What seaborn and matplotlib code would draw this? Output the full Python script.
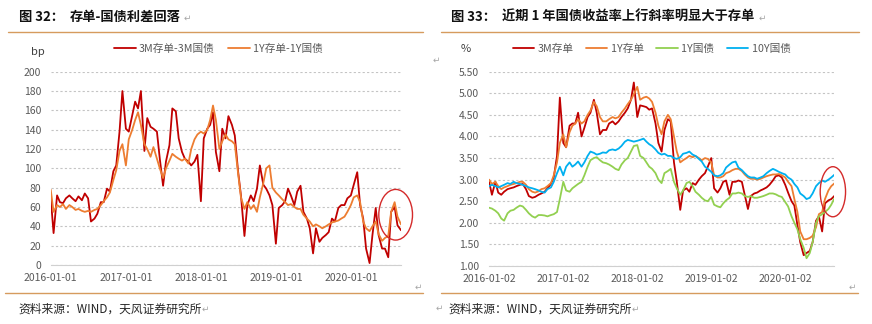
import pandas as pd
import matplotlib
matplotlib.use("Agg")
import matplotlib.pyplot as plt
import matplotlib.dates as mdates
from matplotlib.patches import Ellipse
from matplotlib.lines import Line2D
import seaborn as sns

# Semi-monthly observation dates, Jan 2016 - Aug 2020
dates = pd.date_range("2016-01-01", periods=113, freq="SMS")

# Left panel: CD minus treasury spreads (bp)
spread_3m = [70, 33, 72, 65, 64, 69, 72, 69, 66, 71, 67, 74, 69, 45, 48, 53,
             65, 65, 79, 76, 97, 103, 138, 180, 141, 138, 155, 169, 162, 180, 118, 152,
             143, 141, 138, 110, 82, 107, 124, 162, 159, 131, 117, 110, 107, 103, 107, 114,
             66, 131, 141, 145, 158, 117, 97, 141, 131, 154, 145, 134, 97, 72, 30, 62,
             72, 66, 79, 103, 83, 79, 72, 62, 22, 59, 62, 66, 79, 72, 62, 76,
             82, 55, 48, 38, 12, 38, 24, 28, 31, 34, 48, 45, 59, 62, 62, 69,
             72, 83, 96, 62, 48, 17, 2, 31, 59, 31, 17, 17, 8, 55, 60, 41, 36]
spread_1y = [78, 55, 62, 60, 63, 58, 62, 60, 57, 58, 56, 55, 56, 55, 57, 58,
             62, 66, 70, 75, 88, 98, 118, 125, 103, 130, 140, 150, 158, 145, 125, 120,
             112, 122, 110, 100, 90, 100, 108, 115, 112, 110, 108, 110, 105, 120, 130, 135,
             138, 136, 140, 150, 165, 150, 120, 128, 135, 130, 128, 125, 95, 70, 58, 65,
             58, 62, 55, 70, 85, 100, 103, 80, 75, 72, 68, 65, 62, 63, 60, 58,
             58, 52, 48, 45, 40, 42, 40, 38, 40, 42, 44, 45, 46, 48, 50, 55,
             62, 70, 72, 65, 45, 38, 35, 40, 45, 32, 25, 28, 30, 55, 65, 50, 42]

# Right panel: yields (%)
cd_3m = [2.95, 2.65, 2.95, 2.70, 2.65, 2.72, 2.78, 2.80, 2.82, 2.85, 2.88, 2.90, 2.78, 2.62, 2.58, 2.60,
         2.65, 2.68, 2.72, 2.80, 2.90, 3.05, 3.55, 4.90, 3.85, 3.75, 4.25, 4.30, 4.30, 4.55, 4.00, 4.20,
         4.45, 4.55, 4.85, 4.55, 4.05, 4.15, 4.15, 4.30, 4.35, 4.28, 4.35, 4.45, 4.55, 4.65, 4.85, 5.25,
         4.45, 4.72, 4.70, 4.68, 4.62, 4.65, 4.30, 3.85, 3.65, 4.15, 4.40, 4.35, 3.40, 2.95, 2.30, 2.75,
         2.80, 2.72, 2.92, 2.88, 3.00, 3.08, 3.15, 3.30, 3.50, 2.80, 2.70, 2.80, 2.95, 2.98, 2.65, 2.95,
         2.95, 2.98, 2.95, 2.65, 2.32, 2.62, 2.68, 2.70, 2.75, 2.78, 2.82, 2.88, 2.98, 3.08, 3.10, 3.05,
         2.88, 2.70, 2.50, 2.40, 1.95, 1.55, 1.25, 1.30, 1.35, 1.55, 2.05, 2.15, 1.80, 2.45, 2.52, 2.55, 2.63]
cd_1y = [3.00, 2.90, 2.95, 2.85, 2.78, 2.82, 2.85, 2.88, 2.90, 2.92, 2.95, 2.95, 2.88, 2.78, 2.72, 2.70,
         2.73, 2.78, 2.80, 2.85, 2.92, 3.10, 3.40, 3.85, 4.05, 3.75, 4.10, 4.25, 4.30, 4.40, 4.30, 4.35,
         4.50, 4.60, 4.80, 4.70, 4.45, 4.35, 4.35, 4.40, 4.45, 4.42, 4.45, 4.55, 4.65, 4.75, 4.85, 4.98,
         5.15, 4.85, 4.90, 4.92, 4.88, 4.80, 4.55, 4.25, 4.05, 4.35, 4.50, 4.40, 4.00, 3.65, 3.40, 3.45,
         3.50, 3.55, 3.52, 3.55, 3.50, 3.45, 3.50, 3.48, 3.40, 3.10, 3.05, 3.05, 3.08, 3.15, 3.18, 3.22,
         3.25, 3.25, 3.20, 3.12, 3.05, 3.02, 3.02, 3.00, 3.02, 3.05, 3.08, 3.10, 3.12, 3.12, 3.13, 3.10,
         3.05, 2.95, 2.85, 2.55, 2.25, 1.80, 1.62, 1.62, 1.65, 1.70, 1.90, 2.20, 2.25, 2.55, 2.75, 2.85, 2.92]
gov_1y = [2.35, 2.33, 2.28, 2.22, 2.10, 2.05, 2.22, 2.28, 2.30, 2.35, 2.40, 2.38, 2.30, 2.22, 2.15, 2.12,
          2.18, 2.18, 2.17, 2.15, 2.18, 2.20, 2.25, 2.55, 2.95, 2.75, 2.72, 2.80, 2.85, 2.90, 2.95, 3.10,
          3.30, 3.45, 3.50, 3.52, 3.45, 3.40, 3.38, 3.35, 3.30, 3.25, 3.22, 3.35, 3.45, 3.50, 3.65, 3.78,
          3.80, 3.55, 3.50, 3.40, 3.30, 3.25, 3.15, 3.00, 2.92, 3.15, 3.20, 3.25, 2.95, 2.80, 2.65, 2.75,
          2.92, 2.95, 2.85, 2.72, 2.65, 2.58, 2.52, 2.50, 2.60, 2.42, 2.38, 2.36, 2.45, 2.52, 2.58, 2.68,
          2.68, 2.70, 2.68, 2.62, 2.60, 2.62, 2.58, 2.58, 2.60, 2.62, 2.65, 2.68, 2.68, 2.66, 2.62, 2.60,
          2.48, 2.38, 2.15, 2.00, 1.85, 1.62, 1.42, 1.18, 1.30, 1.55, 2.00, 2.15, 2.20, 2.25, 2.32, 2.42, 2.58]
gov_10y = [2.85, 2.88, 2.85, 2.82, 2.85, 2.88, 2.92, 2.90, 2.95, 2.92, 2.90, 2.88, 2.85, 2.82, 2.80, 2.78,
           2.75, 2.72, 2.70, 2.78, 2.82, 2.95, 3.15, 3.30, 3.10, 3.30, 3.40, 3.30, 3.35, 3.42, 3.30, 3.40,
           3.55, 3.65, 3.62, 3.58, 3.60, 3.63, 3.62, 3.68, 3.70, 3.68, 3.72, 3.78, 3.88, 3.92, 3.90, 3.88,
           3.90, 3.92, 3.95, 3.88, 3.82, 3.78, 3.70, 3.62, 3.58, 3.60, 3.55, 3.55, 3.50, 3.48, 3.52, 3.60,
           3.62, 3.65, 3.58, 3.55, 3.48, 3.42, 3.30, 3.25, 3.18, 3.10, 3.08, 3.10, 3.15, 3.28, 3.35, 3.40,
           3.42, 3.28, 3.22, 3.15, 3.08, 3.05, 3.05, 3.02, 3.05, 3.08, 3.15, 3.20, 3.25, 3.22, 3.18, 3.15,
           3.12, 3.05, 3.00, 2.90, 2.82, 2.68, 2.62, 2.55, 2.58, 2.68, 2.85, 2.92, 2.98, 2.95, 3.00, 3.05, 3.12]

left_xticks = ["2016-01-01", "2017-01-01", "2018-01-01", "2019-01-01", "2020-01-01"]
right_xticks = ["2016-01-02", "2017-01-02", "2018-01-02", "2019-01-02", "2020-01-02"]
left_yticks = [0, 20, 40, 60, 80, 100, 120, 140, 160, 180, 200]
right_yticks = [1.00, 1.50, 2.00, 2.50, 3.00, 3.50, 4.00, 4.50, 5.00, 5.50]

RED, ORANGE, GREEN, BLUE = "#C00000", "#ED7D31", "#92D050", "#00B0F0"
TXT = "#595959"
RULE = "#D69B5E"

sns.set_theme(style="white")
plt.rcParams["font.family"] = ["Noto Sans CJK SC", "DejaVu Sans"]
plt.rcParams["axes.unicode_minus"] = False

W, H = 872, 324
fig = plt.figure(figsize=(W / 100, H / 100), dpi=100)


def px_axes(x0, y_top, x1, y_bot):
    return fig.add_axes([x0 / W, 1 - y_bot / H, (x1 - x0) / W, (y_bot - y_top) / H])


def ftext(x, y, s, **kw):
    kw.setdefault("va", "center")
    return fig.text(x / W, 1 - y / H, s, **kw)


def hrule(x0, x1, y):
    fig.add_artist(Line2D([x0 / W, x1 / W], [1 - y / H] * 2, color=RULE, lw=1.0))


def style(ax, xt, yt, ylabels, xlim, ylim, ypad):
    ax.set_xlim(mdates.date2num(pd.Timestamp(xlim[0])), mdates.date2num(pd.Timestamp(xlim[1])))
    ax.set_ylim(*ylim)
    ax.set_xticks(mdates.date2num(pd.to_datetime(xt)))
    ax.set_xticklabels(xt)
    ax.set_yticks(yt)
    ax.set_yticklabels(ylabels)
    for s in ("left", "top", "right"):
        ax.spines[s].set_visible(False)
    ax.spines["bottom"].set_color("#d0d0d0")
    ax.spines["bottom"].set_linewidth(0.8)
    ax.tick_params(axis="x", length=3, width=0.8, color="#d0d0d0", pad=3,
                   labelsize=7.5, labelcolor=TXT)
    ax.tick_params(axis="y", length=0, pad=ypad, labelsize=7.5, labelcolor=TXT)
    ax.grid(axis="y", color="#c4c4c4", lw=0.8, ls=(0, (2, 2)))
    ax.grid(axis="x", visible=False)
    ax.set_axisbelow(True)
    ax.set_xlabel("")
    ax.set_ylabel("")
    ax.set_facecolor("none")


LW = 1.3

# ---------- left: spreads ----------
axL = px_axes(50.7, 71.7, 401, 265)
sns.lineplot(x=dates, y=spread_3m, ax=axL, color=RED, lw=LW, label="3M存单-3M国债")
sns.lineplot(x=dates, y=spread_1y, ax=axL, color=ORANGE, lw=LW, label="1Y存单-1Y国债")
style(axL, left_xticks, left_yticks, [str(v) for v in left_yticks],
      ("2016-01-01", "2020-09-01"), (0, 200), 7)
axL.legend(loc="center", bbox_to_anchor=(218.5 / W, 1 - 49 / H), bbox_transform=fig.transFigure,
           ncol=2, frameon=False, fontsize=7.7, handlelength=2.0, handletextpad=0.3,
           columnspacing=1.3, labelcolor=TXT, borderpad=0, borderaxespad=0)
axL.add_patch(Ellipse((mdates.date2num(pd.Timestamp("2020-08-06")), 52), width=164, height=52.4,
                      fill=False, ec="#D42A2A", lw=1.0, clip_on=False, zorder=5))

# ---------- right: yields ----------
axR = px_axes(489.3, 71.7, 834.3, 266)
sns.lineplot(x=dates, y=cd_3m, ax=axR, color=RED, lw=LW, label="3M存单")
sns.lineplot(x=dates, y=cd_1y, ax=axR, color=ORANGE, lw=LW, label="1Y存单")
sns.lineplot(x=dates, y=gov_1y, ax=axR, color=GREEN, lw=LW, label="1Y国债")
sns.lineplot(x=dates, y=gov_10y, ax=axR, color=BLUE, lw=LW, label="10Y国债")
style(axR, right_xticks, right_yticks, [f"{v:.2f}" for v in right_yticks],
      ("2016-01-02", "2020-08-30"), (1.0, 5.5), 7.4)
axR.legend(loc="center", bbox_to_anchor=(651.5 / W, 1 - 49 / H), bbox_transform=fig.transFigure,
           ncol=4, frameon=False, fontsize=7.7, handlelength=2.0, handletextpad=0.3,
           columnspacing=1.2, labelcolor=TXT, borderpad=0, borderaxespad=0)
axR.add_patch(Ellipse((mdates.date2num(pd.Timestamp("2020-08-23")), 2.72), width=125, height=1.16,
                      fill=False, ec="#D42A2A", lw=1.0, clip_on=False, zorder=5))

# ---------- titles, units, rules, sources ----------
TITLE = dict(fontsize=9.5, fontweight="bold", color="#111111")
MARK = dict(fontsize=6.5, color="#a6a6a6")
ftext(19, 17, "图 32：", **TITLE)
ftext(70, 17, "存单-国债利差回落", **TITLE)
ftext(184, 18, "↵", **MARK)
ftext(450.7, 17, "图 33：", **TITLE)
ftext(501.7, 17, "近期 1 年国债收益率上行斜率明显大于存单", **TITLE)
ftext(759, 18, "↵", **MARK)

hrule(8, 423, 32)
hrule(441, 859, 32)

ftext(31, 52, "bp", fontsize=8, color="#404040")
ftext(461, 49, "%", fontsize=8, color="#404040")
ftext(433, 60, "↵", **MARK)
ftext(415, 287, "↵", **MARK)
ftext(849, 287, "↵", **MARK)

hrule(5, 423, 292.5)
hrule(441, 858, 292.5)

SRC = dict(fontsize=8.5, color="#262626")
srcL = ftext(18.3, 308.7, "资料来源：WIND，天风证券研究所", **SRC)
srcR = ftext(448, 308.7, "资料来源：WIND，天风证券研究所", **SRC)
ftext(436, 308, "↵", **MARK)
for t in (srcL, srcR):
    fig.add_artist(matplotlib.text.Annotation("↵", xy=(1.0, 0.45), xycoords=t,
                                              va="center", ha="left", **MARK))

fig.savefig("out.png", dpi=100, facecolor="white")
